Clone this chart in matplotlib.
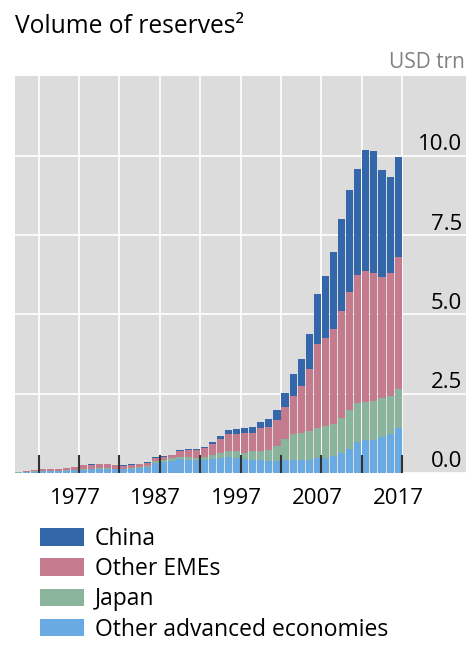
import numpy as np
import matplotlib
matplotlib.use("Agg")
import matplotlib.pyplot as plt
import matplotlib.transforms as mtransforms
from matplotlib.ticker import FixedLocator

plt.rcParams["font.family"] = ["Open Sans", "DejaVu Sans"]

years = list(range(1970, 2018))

# USD trn, stacked bottom -> top
other_adv = [0.015, 0.030, 0.045, 0.055, 0.055, 0.060, 0.065, 0.085, 0.110, 0.120,
             0.130, 0.120, 0.120, 0.120, 0.130, 0.150, 0.180, 0.300, 0.340, 0.390,
             0.430, 0.420, 0.400, 0.420, 0.450, 0.480, 0.490, 0.480, 0.430, 0.420,
             0.410, 0.380, 0.370, 0.420, 0.410, 0.410, 0.410, 0.460, 0.480, 0.540,
             0.640, 0.750, 0.980, 1.030, 1.050, 1.120, 1.220, 1.420]
japan = [0.003, 0.008, 0.012, 0.010, 0.010, 0.010, 0.014, 0.020, 0.030, 0.020,
         0.025, 0.025, 0.020, 0.020, 0.025, 0.030, 0.040, 0.080, 0.080, 0.080,
         0.060, 0.070, 0.070, 0.090, 0.110, 0.140, 0.210, 0.210, 0.200, 0.260,
         0.270, 0.350, 0.470, 0.650, 0.820, 0.840, 0.910, 0.970, 1.010, 1.010,
         1.080, 1.240, 1.220, 1.220, 1.230, 1.240, 1.210, 1.230]
other_emes = [0.010, 0.020, 0.030, 0.050, 0.060, 0.065, 0.076, 0.090, 0.105, 0.125,
              0.130, 0.125, 0.108, 0.090, 0.090, 0.090, 0.110, 0.100, 0.090, 0.090,
              0.200, 0.230, 0.240, 0.270, 0.350, 0.460, 0.540, 0.550, 0.620, 0.590,
              0.740, 0.730, 0.820, 1.020, 1.200, 1.500, 1.950, 2.640, 2.760, 2.990,
              3.390, 3.710, 4.040, 4.130, 4.040, 3.830, 3.870, 4.150]
china = [0.002, 0.002, 0.003, 0.005, 0.005, 0.005, 0.005, 0.005, 0.005, 0.005,
         0.005, 0.010, 0.012, 0.020, 0.025, 0.020, 0.020, 0.020, 0.030, 0.020,
         0.040, 0.040, 0.050, 0.050, 0.070, 0.090, 0.110, 0.140, 0.160, 0.180,
         0.180, 0.230, 0.320, 0.420, 0.690, 0.860, 1.110, 1.570, 1.970, 2.440,
         2.890, 3.230, 3.340, 3.820, 3.840, 3.360, 3.030, 3.180]

series = [
    ("Other advanced economies", other_adv, "#6aaae2"),
    ("Japan", japan, "#8ab59c"),
    ("Other EMEs", other_emes, "#c47b8d"),
    ("China", china, "#3467aa"),
]

y_ticks = [0.0, 2.5, 5.0, 7.5, 10.0]
x_major = [1977, 1987, 1997, 2007, 2017]
x_minor = [1972, 1982, 1992, 2002, 2012]

fig = plt.figure(figsize=(4.73, 6.5), dpi=100)
ax = fig.add_axes([15 / 473, 177 / 650, 451 / 473, 397 / 650])
ax.set_facecolor("#dcdcdc")

# grid drawn by hand so it sits under the bars while the ticks stay on top
for v in y_ticks:
    ax.axhline(v, color="white", lw=1.2, zorder=0.5)
for v in x_major + x_minor:
    ax.axvline(v, color="white", lw=1.2, zorder=0.5)

x = np.array(years) - 0.5
bottom = np.zeros(len(years))
handles = {}
for name, vals, col in series:
    vals = np.array(vals)
    handles[name] = ax.bar(x, vals, width=0.88, bottom=bottom, color=col,
                           linewidth=0, zorder=1)
    bottom += vals

ax.set_xlim(1969.07, 2024.9)
ax.set_ylim(0, 12.52)
for s in ax.spines.values():
    s.set_visible(False)

ax.xaxis.set_major_locator(FixedLocator(x_major))
ax.xaxis.set_minor_locator(FixedLocator(x_minor))
ax.tick_params(axis="x", which="both", direction="in", length=13, width=1.5,
               color="#333333", labelsize=16, pad=11)
ax.set_yticks([])
shift = mtransforms.ScaledTranslation(-4 / 100, 0, fig.dpi_scale_trans)
for lab in ax.get_xticklabels():
    lab.set_transform(lab.get_transform() + shift)

for v in y_ticks:
    ax.annotate(f"{v:.1f}", xy=(0.991, v), xycoords=ax.get_yaxis_transform(),
                xytext=(0, 4), textcoords="offset points",
                ha="right", va="baseline", fontsize=16)

fig.text(15 / 473, 1 - 14 / 650, "Volume of reserves\u00b2", ha="left", va="top",
         fontsize=17.7)
fig.text(465 / 473, 1 - 62 / 650, "USD trn", ha="right", va="center",
         fontsize=15, color="#808080")

order = ["China", "Other EMEs", "Japan", "Other advanced economies"]
fig.legend([handles[n] for n in order], order, loc="upper left",
           bbox_to_anchor=(40 / 473, 1 - 527 / 650), frameon=False,
           fontsize=16.5, handlelength=1.9, handleheight=0.8,
           handletextpad=0.5, labelspacing=0.27, borderpad=0, borderaxespad=0)

fig.savefig("out.png", dpi=100)
